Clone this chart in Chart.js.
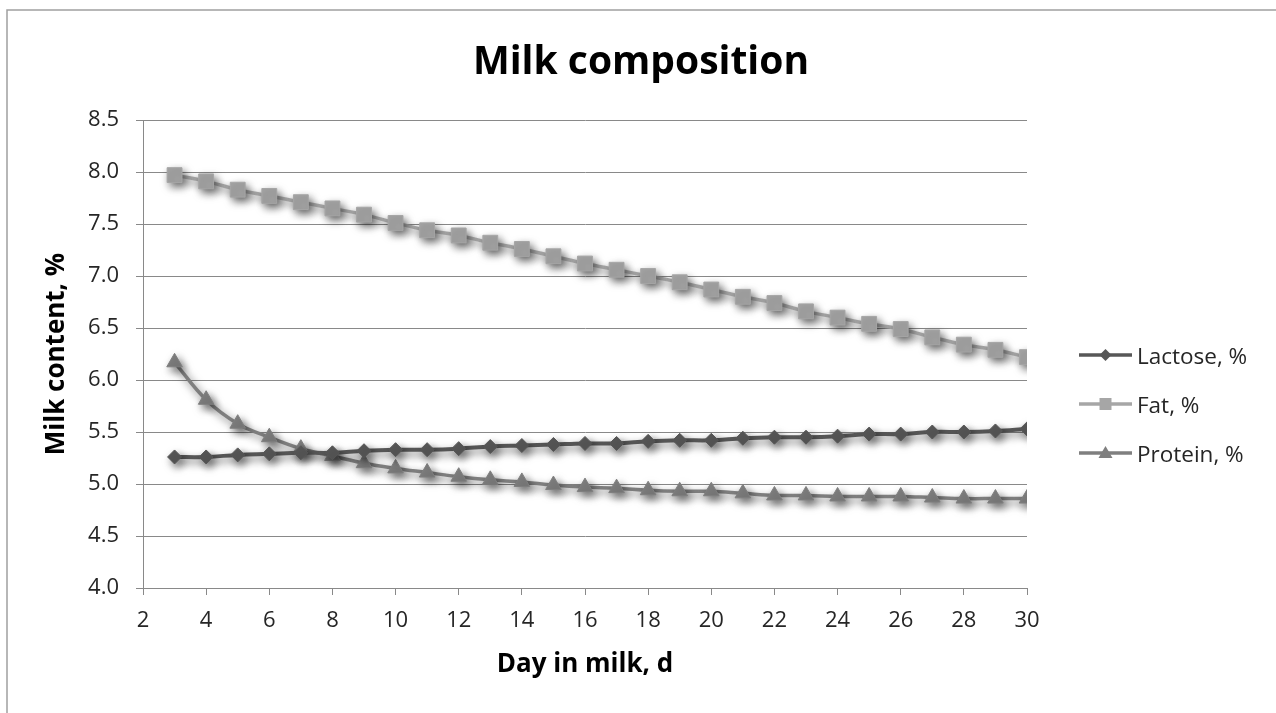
<!DOCTYPE html>
<html>
<head>
<meta charset="utf-8">
<title>Milk composition</title>
<script src="https://cdn.jsdelivr.net/npm/chart.js@4/dist/chart.umd.min.js"></script>
<style>
  html, body { margin: 0; padding: 0; background: #ffffff; }
  #wrap { width: 1276px; height: 713px; position: relative; }
</style>
</head>
<body>
<div id="wrap"><canvas id="chart" width="1276" height="713"></canvas></div>
<script>
// Day in milk (x values)
const days = [3,4,5,6,7,8,9,10,11,12,13,14,15,16,17,18,19,20,21,22,23,24,25,26,27,28,29,30];

// Composition, % of milk
const lactose = [5.26,5.26,5.28,5.29,5.30,5.30,5.32,5.33,5.33,5.34,5.36,5.37,5.38,5.39,5.39,5.41,5.42,5.42,5.44,5.45,5.45,5.46,5.48,5.48,5.50,5.50,5.51,5.53];
const fat     = [7.97,7.91,7.83,7.77,7.71,7.65,7.59,7.51,7.44,7.39,7.32,7.26,7.19,7.12,7.06,7.00,6.94,6.87,6.80,6.74,6.66,6.60,6.54,6.49,6.41,6.34,6.29,6.22];
const protein = [6.17,5.81,5.58,5.45,5.34,5.27,5.20,5.15,5.11,5.07,5.04,5.02,4.99,4.97,4.96,4.94,4.93,4.93,4.91,4.89,4.89,4.88,4.88,4.88,4.87,4.86,4.86,4.86];

const seriesNames = ['Lactose, %', 'Fat, %', 'Protein, %'];
const yTicks = [4.0, 4.5, 5.0, 5.5, 6.0, 6.5, 7.0, 7.5, 8.0, 8.5];
const xTicks = [2,4,6,8,10,12,14,16,18,20,22,24,26,28,30];

const chartTitle = 'Milk composition';
const xTitle = 'Day in milk, d';
const yTitle = 'Milk content, %';

const FONT = '"Open Sans", "Noto Sans", sans-serif';
const GRID = '#898989';

const styles = [
  { color: '#575757', point: 'rectRot',  radius: 7,    lw: 4 },
  { color: '#a6a6a6', point: 'rect',     radius: 10.5, lw: 3.5 },
  { color: '#7f7f7f', point: 'triangle', radius: 9,    lw: 3.5 }
];
const values = [lactose, fat, protein];

const datasets = values.map((vals, i) => ({
  label: seriesNames[i],
  data: days.map((d, k) => ({ x: d, y: vals[k] })),
  borderColor: styles[i].color,
  backgroundColor: styles[i].color,
  borderWidth: styles[i].lw,
  pointStyle: styles[i].point,
  pointRadius: styles[i].radius,
  pointBorderWidth: 1,
  pointBackgroundColor: styles[i].color,
  pointBorderColor: styles[i].color,
  tension: 0.4,
  fill: false
}));

// soft drop shadow under the series
const shadowPlugin = {
  id: 'seriesShadow',
  beforeDatasetsDraw(chart) {
    const ctx = chart.ctx;
    ctx.save();
    ctx.shadowColor = 'rgba(0,0,0,0.55)';
    ctx.shadowBlur = 8;
    ctx.shadowOffsetX = 3;
    ctx.shadowOffsetY = 4;
  },
  afterDatasetsDraw(chart) {
    chart.ctx.restore();
  }
};

// outer frame, centred title and the legend on the right
const framePlugin = {
  id: 'frameTitleLegend',
  afterDraw(chart) {
    const ctx = chart.ctx;
    ctx.save();
    ctx.strokeStyle = '#a0a0a0';
    ctx.lineWidth = 1.5;
    ctx.beginPath();
    ctx.moveTo(7, 713);
    ctx.lineTo(7, 10);
    ctx.lineTo(1276, 10);
    ctx.stroke();

    ctx.fillStyle = '#000000';
    ctx.font = 'bold 39px ' + FONT;
    ctx.textAlign = 'center';
    ctx.textBaseline = 'alphabetic';
    ctx.fillText(chartTitle, 641, 74);

    const lx = 1079, lw = 53, ys = [355, 404, 453];
    chart.data.datasets.forEach((ds, i) => {
      const y = ys[i];
      const s = styles[i];
      ctx.strokeStyle = s.color;
      ctx.fillStyle = s.color;
      ctx.lineWidth = 3.5;
      ctx.beginPath();
      ctx.moveTo(lx, y);
      ctx.lineTo(lx + lw, y);
      ctx.stroke();
      const cx = lx + lw / 2;
      ctx.beginPath();
      if (s.point === 'rectRot') {
        ctx.moveTo(cx - 6, y); ctx.lineTo(cx, y - 6); ctx.lineTo(cx + 6, y); ctx.lineTo(cx, y + 6);
      } else if (s.point === 'rect') {
        ctx.rect(cx - 6, y - 6, 12, 12);
      } else {
        ctx.moveTo(cx, y - 7); ctx.lineTo(cx + 7, y + 5); ctx.lineTo(cx - 7, y + 5);
      }
      ctx.closePath();
      ctx.fill();
      ctx.fillStyle = '#262626';
      ctx.font = '22.5px ' + FONT;
      ctx.textBaseline = 'alphabetic';
      ctx.textAlign = 'left';
      ctx.fillText(ds.label, lx + lw + 5, y + 9);
    });
    ctx.restore();
  }
};

new Chart(document.getElementById('chart'), {
  type: 'line',
  data: { datasets },
  plugins: [shadowPlugin, framePlugin],
  options: {
    responsive: false,
    animation: false,
    devicePixelRatio: 1,
    layout: { padding: { left: 7, right: 249, top: 120, bottom: 0 } },
    plugins: {
      legend: { display: false },
      tooltip: { enabled: false },
      title: { display: false }
    },
    scales: {
      x: {
        type: 'linear',
        min: 2, max: 30,
        afterBuildTicks(scale) { scale.ticks = xTicks.map(v => ({ value: v })); },
        afterFit(scale) { scale.height = 125; },
        ticks: {
          color: '#262626',
          font: { family: FONT, size: 22 },
          padding: 13,
          maxRotation: 0,
          autoSkip: false
        },
        grid: { drawOnChartArea: false, color: GRID, tickLength: 7, lineWidth: 1 },
        border: { color: GRID, width: 1 },
        title: {
          display: true,
          text: xTitle,
          color: '#000000',
          font: { family: FONT, size: 26, weight: 'bold', lineHeight: 1.2 },
          padding: { top: 0, bottom: 33 }
        }
      },
      y: {
        type: 'linear',
        min: 4, max: 8.5,
        afterBuildTicks(scale) { scale.ticks = yTicks.map(v => ({ value: v })); },
        afterFit(scale) { scale.width = 136; },
        ticks: {
          color: '#262626',
          font: { family: FONT, size: 22 },
          padding: 17,
          callback: v => Number(v).toFixed(1)
        },
        grid: { color: GRID, tickLength: 7, lineWidth: 1 },
        border: { color: GRID, width: 1 },
        title: {
          display: true,
          text: yTitle,
          color: '#000000',
          font: { family: FONT, size: 26, weight: 'bold', lineHeight: 1.2 },
          padding: { top: 34, bottom: 0 }
        }
      }
    }
  }
});
</script>
</body>
</html>
